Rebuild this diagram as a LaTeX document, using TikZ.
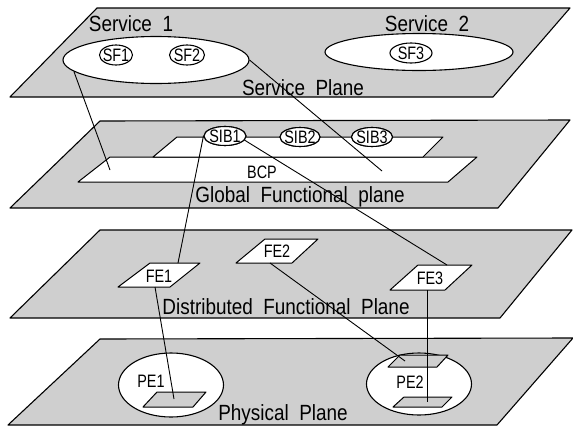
\documentclass[tikz,border=0pt]{standalone}
\usepackage{fontspec}
\setmainfont{Liberation Sans}[FakeStretch=0.86]
\newfontfamily\narrowlabel{Liberation Sans}[FakeStretch=0.8]
\usetikzlibrary{shapes.geometric}
\definecolor{planefill}{RGB}{207,207,207}
\begin{document}
\begin{tikzpicture}[x=1pt,y=-1pt,
  plane/.style={draw=black, line width=1.1pt, fill=planefill, line join=round},
  blank/.style={draw=black, line width=1pt, fill=white, line join=round},
  chip/.style={draw=black, line width=1pt, fill=planefill, line join=round},
  oval/.style={ellipse, draw=black, line width=1.1pt, fill=white, inner sep=0pt},
  big/.style={font=\fontsize{22}{24}\selectfont, inner sep=0pt},
  small/.style={font=\narrowlabel\fontsize{18}{20}\selectfont, inner sep=0pt},
  link/.style={draw=black, line width=0.9pt}]
\useasboundingbox (0,0) rectangle (573,426);

% the four planes
\path[plane] (97,8)   -- (570,8)   -- (493,97)  -- (10,97)  -- cycle;
\path[plane] (100,121) -- (570,120) -- (498,208) -- (10,208) -- cycle;
\path[plane] (100,230) -- (572,230) -- (500,318) -- (10,318) -- cycle;
\path[plane] (100,339) -- (573,338) -- (497,425) -- (8,425)  -- cycle;

% plane titles
\node[big] (tsp)  at (303,88)  {Service\ \ Plane};
\node[big] (tgfp) at (300,197) {Global\ \ Functional\ \ plane};
\node[big] (tdfp) at (286,307) {Distributed\ \ Functional\ \ Plane};
\node[big] (tpp)  at (283,415) {Physical\ \ Plane};

% service plane
\node[big] (s1lbl) at (131,24) {Service\ \ 1};
\node[big] (s2lbl) at (427,24) {Service\ \ 2};
\node[oval, minimum width=186, minimum height=47] (svc1) at (156,60) {};
\node[oval, minimum width=188, minimum height=37] (svc2) at (419,52) {};
\node[oval, minimum width=33, minimum height=20] (sf1) at (116,55) {};
\node[small] (sf1t) at (sf1) {SF1};
\node[oval, minimum width=35, minimum height=20] (sf2) at (187,55) {};
\node[small] (sf2t) at (sf2) {SF2};
\node[oval, minimum width=42, minimum height=20] (sf3) at (411,53) {};
\node[small] (sf3t) at (sf3) {SF3};

% basic call process on the global functional plane
\path[blank] (78,182) -- (110,157) -- (477,157) -- (448,182) -- cycle;
\path[blank] (153,157) -- (177,137) -- (443,137) -- (423,157) -- cycle;
\node[small] (bcp) at (262,172) {BCP};

% functional entities
\path[blank] (118,287) -- (150,263) -- (200,263) -- (170,287) -- cycle;
\node[small] (fe1) at (159,276) {FE1};
\path[blank] (236,263) -- (265,239) -- (318,239) -- (292,263) -- cycle;
\node[small] (fe2) at (277,251) {FE2};
\path[blank] (390,290) -- (418,265) -- (472,265) -- (445,290) -- cycle;
\node[small] (fe3) at (430,278) {FE3};

% physical entities
\node[oval, minimum width=105, minimum height=64] (pe1) at (171,385) {};
\node[small] (pe1t) at (151,381) {PE1};
\path[chip] (143,407) -- (157,392) -- (206,392) -- (193,407) -- cycle;
\node[oval, minimum width=105, minimum height=62] (pe2) at (419,384) {};
\node[small] (pe2t) at (410,382) {PE2};
\path[chip] (388,367) -- (400,355) -- (448,355) -- (437,367) -- cycle;
\path[chip] (393,407) -- (404,397) -- (452,397) -- (442,407) -- cycle;

% end points of the connectors
\coordinate (bcpA) at (110,170);
\coordinate (bcpB) at (382,171);
\coordinate (fe1top) at (178,263);
\coordinate (fe1bot) at (155,287);
\coordinate (fe2bot) at (270,263);
\coordinate (fe3top) at (447,265);
\coordinate (fe3bot) at (427,290);
\coordinate (pe1chip) at (174,399);
\coordinate (pe2up) at (405,361);
\coordinate (pe2low) at (427,402);

% service independent building blocks
\node[oval, minimum width=42, minimum height=19] (sib1) at (225,136) {};
\node[oval, minimum width=40, minimum height=19] (sib2) at (300,137) {};
\node[oval, minimum width=41, minimum height=19] (sib3) at (372,137) {};

% connectors between the planes
\draw[link] (svc1.188) -- (bcpA);
\draw[link] (svc1.east) -- (bcpB);
\draw[link] (sib1.west) -- (fe1top);
\draw[link] (sib1.-12) -- (fe3top);
\draw[link] (fe1bot) -- (pe1chip);
\draw[link] (fe2bot) -- (pe2up);
\draw[link] (fe3bot) -- (pe2low);

% redraw building blocks above the links
\node[oval, minimum width=42, minimum height=19] at (sib1) {};
\node[small] (sib1t) at (sib1) {SIB1};
\node[oval, minimum width=40, minimum height=19] at (sib2) {};
\node[small] (sib2t) at (sib2) {SIB2};
\node[oval, minimum width=41, minimum height=19] at (sib3) {};
\node[small] (sib3t) at (sib3) {SIB3};
\end{tikzpicture}
\end{document}
